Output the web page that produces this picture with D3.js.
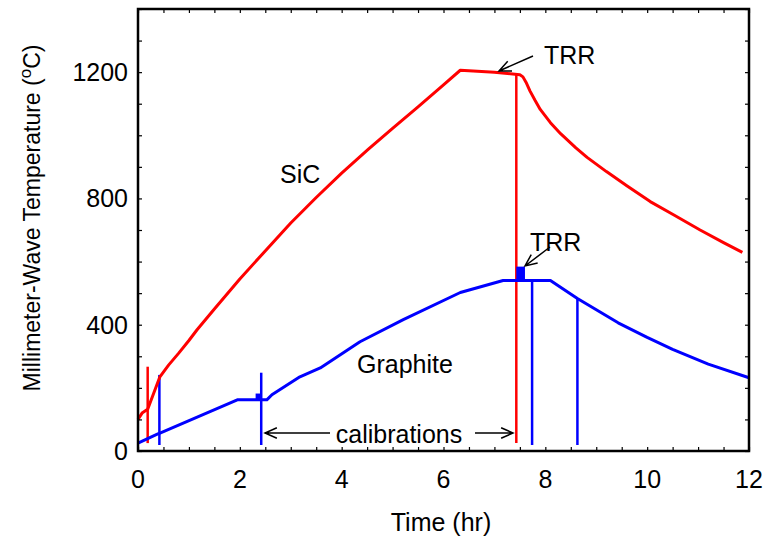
<!DOCTYPE html>
<html>
<head>
<meta charset="utf-8">
<script src="https://cdn.jsdelivr.net/npm/d3@7"></script>
<style>
  body { margin: 0; background: #fff; }
  svg { display: block; font-family: "Liberation Sans", Arial, sans-serif; }
</style>
</head>
<body>
<svg id="chart"></svg>
<script>
const width = 767;
const height = 539;
const margin = { top: 9, right: 18, bottom: 88, left: 138 };

// SiC (red) temperature vs time
const sicTime = [0, 0.08, 0.19, 0.43, 0.6, 0.8, 1.0, 1.16, 1.5, 2.0, 2.4, 3.0, 3.5, 4.0, 4.52, 5.0, 5.5, 6.0, 6.33, 7.0, 7.5, 7.56, 7.62, 7.7, 7.8, 7.9, 8.1, 8.3, 8.6, 8.82, 9.2, 9.6, 10.06, 10.5, 11.04, 11.5, 11.87];
const sicTemp = [100, 120, 132, 235, 272, 310, 350, 384, 450, 545, 616, 722, 803, 880, 955, 1022, 1090, 1160, 1206, 1200, 1192, 1185, 1168, 1140, 1110, 1082, 1040, 1005, 960, 930, 885, 840, 790, 750, 700, 660, 629];

// Graphite (blue) temperature vs time
const grTime = [0, 0.2, 0.39, 0.42, 1.95, 2.53, 2.63, 3.18, 3.58, 4.36, 5.21, 6.33, 7.17, 8.1, 8.63, 9.43, 10.0, 10.5, 11.2, 12];
const grTemp = [25, 40, 54, 56, 162, 162, 178, 235, 263, 346, 416, 502, 540, 540, 483, 406, 360, 322, 275, 232];

// calibration spikes: time, top, bottom
const sicCalib = [[0.19, 267, 25], [7.43, 1195, 25]];
const grCalib = [[0.42, 241, 19], [2.42, 248, 19], [7.74, 540, 19], [8.63, 483, 19]];
// small filled blocks on graphite trace: t0, t1, temp0, temp1
const grBlocks = [[2.31, 2.43, 160, 182], [7.43, 7.6, 540, 584]];

const xTicks = [0, 2, 4, 6, 8, 10, 12];
const yTicks = [0, 400, 800, 1200];

const svg = d3.select("#chart").attr("width", width).attr("height", height);

const x = d3.scaleLinear().domain([0, 12]).range([margin.left, width - margin.right]);
const y = d3.scaleLinear().domain([0, 1400]).range([height - margin.bottom, margin.top]);

const line = d3.line().x((d) => x(d[0])).y((d) => y(d[1]));

const sicData = sicTime.map((t, i) => [t, sicTemp[i]]);
const grData = grTime.map((t, i) => [t, grTemp[i]]);

// calibration spikes
svg.append("g")
    .selectAll("line")
    .data(sicCalib)
    .enter()
    .append("line")
    .attr("x1", (d) => x(d[0]))
    .attr("x2", (d) => x(d[0]))
    .attr("y1", (d) => y(d[1]))
    .attr("y2", (d) => y(d[2]))
    .attr("stroke", "#ff0000")
    .attr("stroke-width", 2.5);

svg.append("g")
    .selectAll("line")
    .data(grCalib)
    .enter()
    .append("line")
    .attr("x1", (d) => x(d[0]))
    .attr("x2", (d) => x(d[0]))
    .attr("y1", (d) => y(d[1]))
    .attr("y2", (d) => y(d[2]))
    .attr("stroke", "#0000ff")
    .attr("stroke-width", 2.5);

svg.append("path")
    .datum(grData)
    .attr("d", line)
    .attr("fill", "none")
    .attr("stroke", "#0000ff")
    .attr("stroke-width", 3)
    .attr("stroke-linejoin", "round");

svg.append("g")
    .selectAll("rect")
    .data(grBlocks)
    .enter()
    .append("rect")
    .attr("x", (d) => x(d[0]))
    .attr("width", (d) => x(d[1]) - x(d[0]))
    .attr("y", (d) => y(d[3]))
    .attr("height", (d) => y(d[2]) - y(d[3]))
    .attr("fill", "#0000ff");

svg.append("path")
    .datum(sicData)
    .attr("d", line)
    .attr("fill", "none")
    .attr("stroke", "#ff0000")
    .attr("stroke-width", 3)
    .attr("stroke-linejoin", "round");

// axes with inward ticks on all four sides
const x0 = margin.left, x1 = width - margin.right;
const y0 = height - margin.bottom, y1 = margin.top;

svg.append("g")
    .attr("transform", `translate(0,${y0})`)
    .call(d3.axisBottom(x).tickValues(d3.range(0, 12.01, 0.5)).tickSize(-4).tickFormat(""))
    .call((g) => g.select(".domain").remove());
svg.append("g")
    .attr("transform", `translate(0,${y1})`)
    .call(d3.axisTop(x).tickValues(d3.range(0, 12.01, 0.5)).tickSize(-4).tickFormat(""))
    .call((g) => g.select(".domain").remove());
svg.append("g")
    .attr("transform", `translate(${x0},0)`)
    .call(d3.axisLeft(y).tickValues(d3.range(0, 1401, 100)).tickSize(-4).tickFormat(""))
    .call((g) => g.select(".domain").remove());
svg.append("g")
    .attr("transform", `translate(${x1},0)`)
    .call(d3.axisRight(y).tickValues(d3.range(0, 1401, 100)).tickSize(-4).tickFormat(""))
    .call((g) => g.select(".domain").remove());

svg.selectAll(".tick line").attr("stroke", "#000").attr("stroke-width", 1.2);

svg.append("rect")
    .attr("x", x0)
    .attr("y", y1)
    .attr("width", x1 - x0)
    .attr("height", y0 - y1)
    .attr("fill", "none")
    .attr("stroke", "#000")
    .attr("stroke-width", 2.5);

// tick labels
svg.append("g")
    .selectAll("text")
    .data(xTicks)
    .enter()
    .append("text")
    .attr("x", (d) => x(d))
    .attr("y", y0 + 37)
    .attr("text-anchor", "middle")
    .attr("font-size", 25)
    .text((d) => d);

svg.append("g")
    .selectAll("text")
    .data(yTicks)
    .enter()
    .append("text")
    .attr("x", x0 - 10)
    .attr("y", (d) => y(d) + 9)
    .attr("text-anchor", "end")
    .attr("font-size", 25)
    .text((d) => d);

// axis titles
svg.append("text")
    .attr("x", 441)
    .attr("y", 531)
    .attr("text-anchor", "middle")
    .attr("font-size", 25)
    .text("Time (hr)");

const yTitle = svg.append("text")
    .attr("transform", "translate(40,218) rotate(-90)")
    .attr("text-anchor", "middle")
    .attr("font-size", 23);
yTitle.append("tspan").text("Millimeter-Wave Temperature (");
yTitle.append("tspan").attr("font-size", 17).attr("dy", -9).text("o");
yTitle.append("tspan").attr("dy", 9).text("C)");

// labels and annotations
function label(text, tx, ty) {
    svg.append("text")
        .attr("x", tx)
        .attr("y", ty)
        .attr("font-size", 25)
        .text(text);
}
label("SiC", 280, 183);
label("Graphite", 357, 373);
label("TRR", 544, 64);
label("TRR", 530, 251);
svg.append("text")
    .attr("x", 399)
    .attr("y", 443)
    .attr("text-anchor", "middle")
    .attr("font-size", 25)
    .text("calibrations");

function arrow(ax, ay, bx, by) {
    const ang = Math.atan2(by - ay, bx - ax);
    const len = 13, spread = 0.42;
    const p = d3.path();
    p.moveTo(ax, ay);
    p.lineTo(bx, by);
    p.moveTo(bx - len * Math.cos(ang - spread), by - len * Math.sin(ang - spread));
    p.lineTo(bx, by);
    p.lineTo(bx - len * Math.cos(ang + spread), by - len * Math.sin(ang + spread));
    svg.append("path")
        .attr("d", p.toString())
        .attr("fill", "none")
        .attr("stroke", "#000")
        .attr("stroke-width", 1.5);
}
arrow(533, 56, 499, 71);
arrow(550, 247, 525, 266);
arrow(330, 433, 265, 433);
arrow(475, 433, 513, 433);
</script>
</body>
</html>
